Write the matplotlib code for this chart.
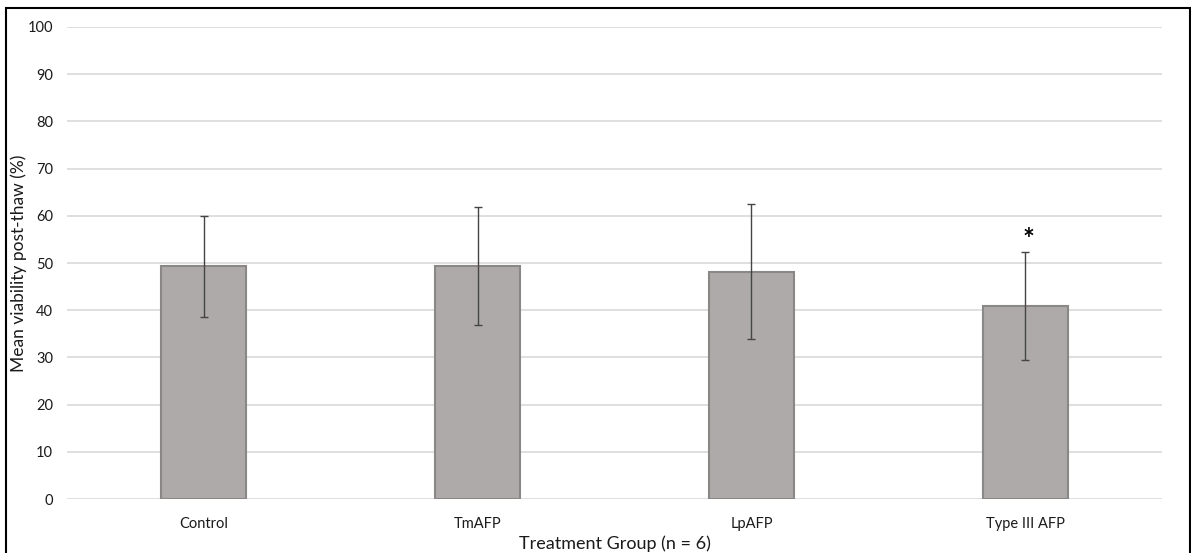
import matplotlib
matplotlib.use("Agg")
import matplotlib.pyplot as plt
from matplotlib.patches import Rectangle

# datos
grupos = ["Control", "TmAFP", "LpAFP", "Type III AFP"]
medias = [49.3, 49.3, 48.2, 40.9]
errores = [10.7, 12.5, 14.3, 11.5]
marca_sig = ["", "", "", "*"]

plt.rcParams['font.family'] = ['Lato', 'DejaVu Sans']

fig = plt.figure(figsize=(11.91, 5.53), dpi=100)
ax = fig.add_axes([0.0563, 0.0976, 0.9194, 0.8536])

x = range(len(grupos))
ax.bar(x, medias, width=0.31, color="#adaaa9", edgecolor="#8a8787", linewidth=1.5, zorder=3)
ax.errorbar(x, medias, yerr=errores, fmt="none", ecolor="#454545", elinewidth=1,
            capsize=3, capthick=1, zorder=4)

for i, m in enumerate(marca_sig):
    if m:
        ax.text(i + 0.012, medias[i] + errores[i] - 0.3, m, ha="center", va="bottom",
                fontsize=20, fontweight="bold", color="black")

ax.set_xlim(-0.5, len(grupos) - 0.5)
ax.set_ylim(0, 100)
ax.set_yticks(range(0, 101, 10))
ax.set_xticks(list(x))
ax.set_xticklabels(grupos)
ax.yaxis.grid(True, color="#d9d9d9", linewidth=1.2, zorder=0)
ax.set_axisbelow(True)
for s in ax.spines.values():
    s.set_visible(False)
ax.tick_params(axis="both", length=0, labelsize=10.5, colors="#1a1a1a")
ax.tick_params(axis="y", pad=10)
ax.tick_params(axis="x", pad=13)

ax.set_ylabel("Mean viability post-thaw (%)", fontsize=12.5, color="#1a1a1a")
ax.yaxis.set_label_coords(-0.037, 0.5)
ax.set_xlabel("Treatment Group (n = 6)", fontsize=13, color="#1a1a1a", labelpad=3)

# marco exterior
fig.patches.append(Rectangle((6 / 1191, -0.02), 1184 / 1191, 1.02 - 8 / 553,
                             transform=fig.transFigure, fill=False,
                             edgecolor="black", linewidth=1.5))

fig.savefig("out.png", dpi=100)
